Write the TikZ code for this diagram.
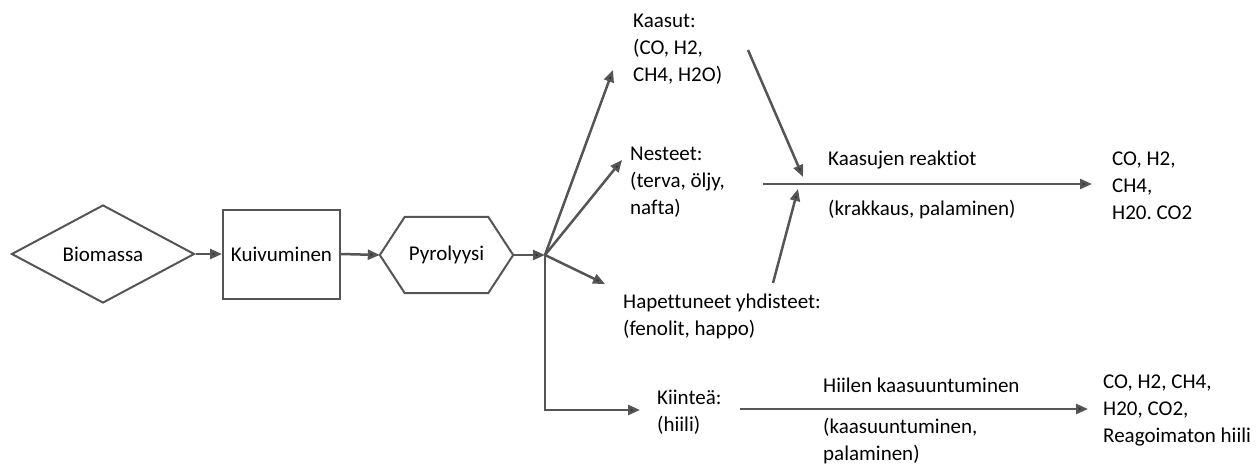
\documentclass[tikz,border=0pt]{standalone}
\usepackage{fontspec}
\setmainfont{Carlito}[Ligatures=NoCommon]
\usetikzlibrary{arrows.meta,shapes.geometric}
\definecolor{lc}{HTML}{555555}
\frenchspacing
\begin{document}
\begin{tikzpicture}[x=1pt,y=-1pt,
  line/.style={draw=lc, line width=2.5pt},
  arr/.style={line, -{Triangle[length=12pt,width=10pt,fill=black!80]}},
  shp/.style={draw=lc, line width=2pt},
  txt/.style={font=\fontsize{21}{27}\selectfont, align=left, inner sep=0pt, anchor=west},
  lbl/.style={font=\fontsize{21}{27}\selectfont, inner sep=0pt}]
\useasboundingbox (0,0) rectangle (1260,465);
% process shapes
\node[diamond, shp, lbl, minimum width=183pt, minimum height=98pt] (bio) at (103,254) {Biomassa};
\node[rectangle, shp, lbl, minimum width=117pt, minimum height=89pt] (kui) at (281.5,254) {Kuivuminen};
\node[lbl, minimum width=133pt, minimum height=76pt] (pyr) at (446.5,255) {Pyrolyysi};
\draw[shp] (pyr.west) -- ([xshift=25pt]pyr.north west) -- ([xshift=-25pt]pyr.north east) -- (pyr.east)
  -- ([xshift=-25pt]pyr.south east) -- ([xshift=25pt]pyr.south west) -- cycle;
% junction and tips
\coordinate (J) at (545,255);
\coordinate (tKa) at (613,70);
\coordinate (tNe) at (622,160);
\coordinate (tHa) at (605,284);
\coordinate (cK) at (545,410);
\coordinate (tKi) at (640,410);
\coordinate (sKa) at (748,50);
\coordinate (tKr1) at (803,177);
\coordinate (sHa) at (773,283);
\coordinate (tKr2) at (798,189);
\coordinate (sR) at (763,184);
\coordinate (tR) at (1092,184);
\coordinate (sH) at (740,409);
\coordinate (tH) at (1088,409);
% texts
\node[txt] (kaasut) at (633,49.5) {Kaasut:\\(CO, H2,\\CH4, H2O)};
\node[txt] (nesteet) at (630,182) {Nesteet:\\(terva, öljy,\\nafta)};
\node[txt] (hap) at (623,316.5) {Hapettuneet yhdisteet:\\(fenolit, happo)};
\node[txt] (kiin) at (657,412.5) {Kiinteä:\\(hiili)};
\node[txt] (kr) at (828,160) {Kaasujen reaktiot};
\node[txt] (krk) at (828,210) {(krakkaus, palaminen)};
\node[txt] (out1) at (1112,186) {CO, H2,\\CH4,\\H20. CO2};
\node[txt] (hk) at (823,385) {Hiilen kaasuuntuminen};
\node[txt] (hkk) at (823,441.5) {(kaasuuntuminen,\\palaminen)};
\node[txt] (out2) at (1103,410) {CO, H2, CH4,\\H20, CO2,\\Reagoimaton hiili};
% connectors
\draw[arr] (bio.east) -- (kui.west);
\draw[arr] (kui.east) -- (pyr.west);
\draw[arr] (pyr.east) -- (J);
\draw[arr] (J) -- (tKa);
\draw[arr] (J) -- (tNe);
\draw[arr] (J) -- (tHa);
\draw[arr] (J) -- (cK) -- (tKi);
\draw[arr] (sKa) -- (tKr1);
\draw[arr] (sHa) -- (tKr2);
\draw[arr] (sR) -- (tR);
\draw[arr] (sH) -- (tH);
\end{tikzpicture}
\end{document}
